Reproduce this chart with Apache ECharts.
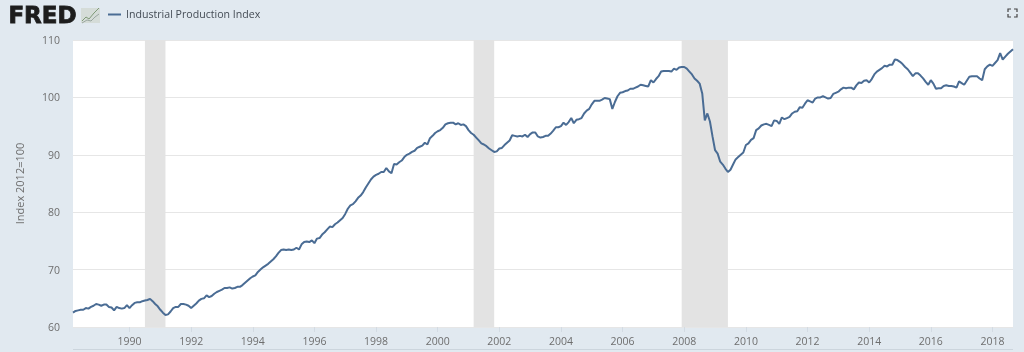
<!DOCTYPE html>
<html>
<head>
<meta charset="utf-8">
<title>Industrial Production Index</title>
<script src="https://cdn.jsdelivr.net/npm/echarts@6/dist/echarts.min.js"></script>
<style>
html, body { margin: 0; padding: 0; background: #e1e9f0; }
#chart { width: 1024px; height: 352px; }
</style>
</head>
<body>
<div id="chart"></div>
<script>
const seriesName = 'Industrial Production Index'
const yAxisName = 'Index 2012=100'
const firstYear = 1988
const firstMonth = 3

// monthly values, one row per year (1988 starts in Mar, 2018 stops in Sep)
const values = [
    62.5, 62.8, 62.9, 63.0, 63.0, 63.3, 63.2, 63.5, 63.7, 64.0,
    63.9, 63.7, 63.9, 63.9, 63.5, 63.4, 62.9, 63.5, 63.3, 63.2, 63.3, 63.8,
    63.3, 63.8, 64.2, 64.3, 64.3, 64.5, 64.6, 64.7, 64.9, 64.5, 64.0, 63.6,
    63.0, 62.5, 62.1, 62.2, 62.7, 63.3, 63.5, 63.5, 64.0, 64.0, 63.9, 63.7,
    63.3, 63.7, 64.1, 64.6, 64.9, 65.0, 65.5, 65.2, 65.4, 65.8, 66.1, 66.3,
    66.5, 66.8, 66.8, 66.9, 66.7, 66.8, 67.0, 67.0, 67.3, 67.7, 68.1, 68.5,
    68.8, 69.0, 69.6, 70.0, 70.4, 70.7, 71.0, 71.4, 71.8, 72.3, 72.9, 73.4,
    73.5, 73.4, 73.5, 73.4, 73.5, 73.8, 73.5, 74.4, 74.8, 74.9, 74.8, 75.1,
    74.6, 75.4, 75.5, 76.1, 76.5, 77.0, 77.5, 77.4, 77.9, 78.2, 78.6, 79.0,
    79.7, 80.6, 81.2, 81.4, 81.9, 82.5, 82.9, 83.5, 84.3, 85.0, 85.7, 86.2,
    86.5, 86.7, 87.0, 87.0, 87.7, 87.1, 86.8, 88.4, 88.3, 88.7, 89.0, 89.6,
    90.0, 90.2, 90.5, 90.7, 91.2, 91.4, 91.6, 92.1, 91.8, 92.9, 93.3, 93.8,
    94.1, 94.3, 94.7, 95.3, 95.5, 95.6, 95.6, 95.3, 95.5, 95.2, 95.3, 95.0,
    94.3, 93.8, 93.5, 93.0, 92.5, 92.0, 91.8, 91.5, 91.1, 90.8, 90.5, 90.6,
    91.1, 91.2, 91.7, 92.1, 92.5, 93.4, 93.3, 93.2, 93.3, 93.2, 93.5, 93.1,
    93.6, 93.9, 93.9, 93.2, 93.0, 93.1, 93.3, 93.3, 93.7, 94.2, 94.8, 94.8,
    95.0, 95.6, 95.2, 95.7, 96.4, 95.5, 96.1, 96.2, 96.4, 97.2, 97.7, 98.0,
    98.8, 99.4, 99.4, 99.4, 99.6, 99.9, 99.8, 99.7, 98.0, 99.2, 100.2, 100.8,
    100.9, 101.1, 101.2, 101.5, 101.5, 101.7, 101.9, 102.2, 102.1, 102.0, 101.9, 103.0,
    102.6, 103.2, 103.7, 104.5, 104.6, 104.6, 104.6, 104.5, 105.0, 104.8, 105.2, 105.3,
    105.3, 105.0, 104.5, 104.0, 103.3, 102.9, 102.4, 100.7, 96.0, 97.2, 95.8, 93.2,
    90.8, 90.2, 88.8, 88.3, 87.6, 87.0, 87.4, 88.3, 89.2, 89.6, 90.0, 90.4,
    91.7, 92.0, 92.6, 92.9, 94.3, 94.6, 95.1, 95.3, 95.4, 95.2, 95.0, 96.0,
    95.9, 95.4, 96.5, 96.2, 96.4, 96.6, 97.2, 97.5, 97.6, 98.3, 98.2, 98.9,
    99.5, 99.3, 99.1, 99.8, 100.0, 100.0, 100.2, 100.0, 99.8, 99.9, 100.6, 100.8,
    101.0, 101.4, 101.7, 101.6, 101.7, 101.7, 101.4, 102.1, 102.6, 102.5, 102.9, 103.0,
    102.6, 103.2, 104.0, 104.5, 104.8, 105.1, 105.5, 105.4, 105.7, 105.7, 106.6, 106.5,
    106.2, 105.8, 105.3, 104.9, 104.3, 103.7, 104.2, 104.2, 103.8, 103.3, 102.7, 102.2,
    103.0, 102.4, 101.5, 101.6, 101.6, 102.0, 102.1, 102.0, 102.0, 101.9, 101.7, 102.8,
    102.5, 102.2, 102.9, 103.6, 103.7, 103.7, 103.7, 103.3, 103.0, 104.9, 105.4, 105.7,
    105.5, 106.0, 106.5, 107.7, 106.6, 107.1, 107.6, 108.0, 108.4
]

const recessions = [
    ['1990-07', '1991-03'],
    ['2001-03', '2001-11'],
    ['2007-12', '2009-06']
]

// x轴的月份
let months = []
for(let i = 0; i < values.length; i++) {
    let m = firstMonth - 1 + i
    let y = firstYear + Math.floor(m / 12)
    months.push(y + '-' + String(m % 12 + 1).padStart(2, '0'))
}

// 只在偶数年的一月显示刻度
function isTick(index, value) {
    return value.endsWith('-01') && parseInt(value) % 2 == 0
}

const font = '"Open Sans", sans-serif'
let myChart = echarts.init(document.getElementById('chart'), null, {renderer: 'canvas'})
let option = {
    animation: false,
    backgroundColor: '#e1e9f0',
    grid: {left: 73, right: 11, top: 40, bottom: 25, backgroundColor: '#ffffff', show: true, borderWidth: 0},
    legend: {
        left: 103,
        top: 4,
        icon: 'rect',
        itemWidth: 13,
        itemHeight: 2,
        textStyle: {fontFamily: font, fontSize: 10.6, color: '#444c55'},
        data: [seriesName]
    },
    xAxis: {
        type: 'category',
        data: months,
        boundaryGap: false,
        axisLine: {show: false},
        axisTick: {show: true, interval: isTick, length: 5, lineStyle: {color: '#d3dbe3'}},
        axisLabel: {
            interval: isTick,
            formatter: v => v.slice(0, 4),
            margin: 10,
            fontFamily: font,
            fontSize: 10.5,
            color: '#6e6e6e'
        },
        splitLine: {show: false}
    },
    yAxis: {
        type: 'value',
        min: 60,
        max: 110,
        interval: 10,
        name: yAxisName,
        nameLocation: 'middle',
        nameGap: 47,
        nameTextStyle: {fontFamily: font, fontSize: 11, color: '#6e6e6e'},
        axisLine: {show: false},
        axisTick: {show: false},
        // 标签略低于网格线，和原图一致
        axisLabel: {margin: 13, verticalAlign: 'top', lineHeight: 2, fontFamily: font, fontSize: 10.5, color: '#6e6e6e'},
        splitLine: {lineStyle: {color: '#e6e6e6', width: 1}}
    },
    series: [{
        name: seriesName,
        type: 'line',
        data: values,
        showSymbol: false,
        smooth: false,
        itemStyle: {color: '#4a6c94'},
        lineStyle: {color: '#4a6c94', width: 2},
        markArea: {
            silent: true,
            itemStyle: {color: '#e3e3e3'},
            data: recessions.map(r => [{xAxis: r[0]}, {xAxis: r[1]}])
        }
    }],
    graphic: [
        // FRED 标志
        {type: 'text', left: 8, top: 5, style: {
            text: 'FRED', fontFamily: '"DejaVu Sans"', fontWeight: 'bold', fontSize: 23,
            fill: '#1d1d1d', stroke: '#1d1d1d', lineWidth: 0.8
        }},
        {type: 'rect', shape: {x: 81, y: 8, width: 19, height: 15}, style: {fill: '#d5dcd8'}},
        {type: 'polyline', shape: {points: [[82, 21], [86, 17], [89, 19], [94, 13], [99, 8]]}, style: {fill: 'none', stroke: '#7f9a78', lineWidth: 1}},
        {type: 'polyline', shape: {points: [[82, 23], [87, 20], [91, 21], [95, 17], [99, 14]]}, style: {fill: 'none', stroke: '#9aa7a0', lineWidth: 1}},
        // 右上角全屏图标
        {type: 'polyline', shape: {points: [[1008, 12], [1008, 9], [1011, 9]]}, style: {fill: 'none', stroke: '#444', lineWidth: 1.2}},
        {type: 'polyline', shape: {points: [[1014, 9], [1017, 9], [1017, 12]]}, style: {fill: 'none', stroke: '#444', lineWidth: 1.2}},
        {type: 'polyline', shape: {points: [[1008, 14], [1008, 17], [1011, 17]]}, style: {fill: 'none', stroke: '#444', lineWidth: 1.2}},
        {type: 'polyline', shape: {points: [[1014, 17], [1017, 17], [1017, 14]]}, style: {fill: 'none', stroke: '#444', lineWidth: 1.2}},
        // 底部导航条的上边线
        {type: 'line', shape: {x1: 73, y1: 349.5, x2: 1013, y2: 349.5}, style: {stroke: '#ccd5dd', lineWidth: 1}}
    ]
}
myChart.setOption(option)
</script>
</body>
</html>
